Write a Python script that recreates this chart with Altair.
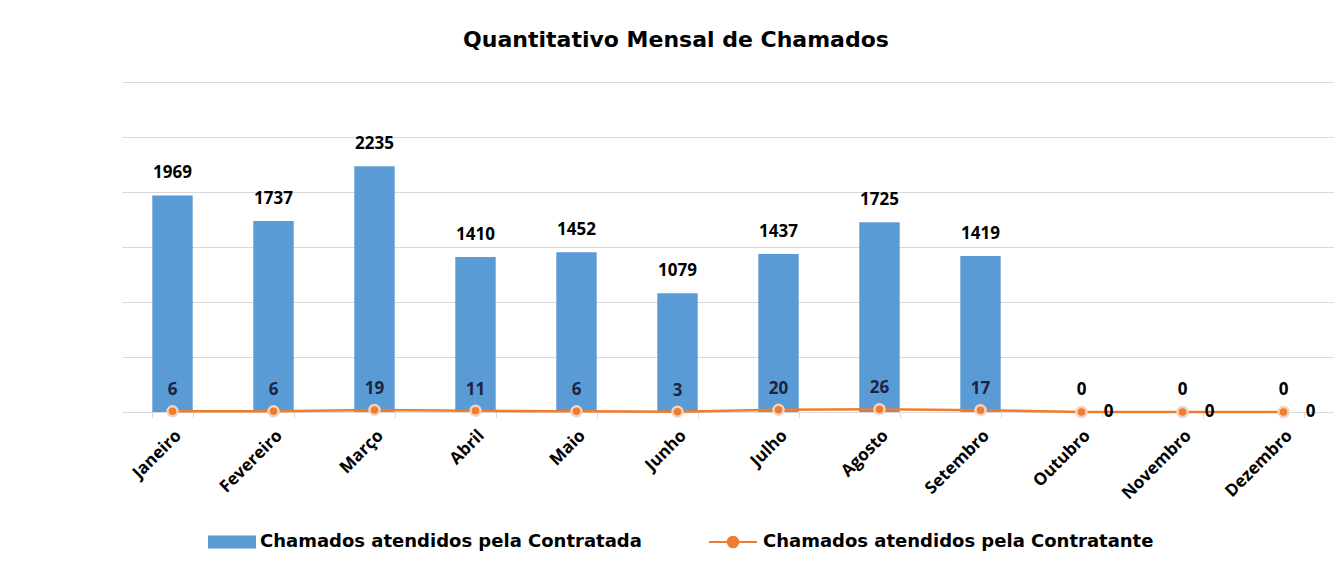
import altair as alt
import pandas as pd

meses = ["Janeiro", "Fevereiro", "Março", "Abril", "Maio", "Junho", "Julho",
         "Agosto", "Setembro", "Outubro", "Novembro", "Dezembro"]
contratada = [1969, 1737, 2235, 1410, 1452, 1079, 1437, 1725, 1419, 0, 0, 0]
contratante = [6, 6, 19, 11, 6, 3, 20, 26, 17, 0, 0, 0]

serie_bar = "Chamados atendidos pela Contratada"
serie_line = "Chamados atendidos pela Contratante"

df = pd.DataFrame({"mes": meses, "contratada": contratada, "contratante": contratante})

BLUE = "#5B9BD5"
ORANGE = "#ED7D31"
FONT = "Open Sans"
WIDE = "DejaVu Sans"

xax = alt.Axis(title=None, labelAngle=-45, labelAlign="right", labelBaseline="top",
               labelFont=FONT, labelFontSize=17, labelFontWeight="bold",
               labelColor="#000000", labelPadding=9,
               tickBand="extent", ticks=True, tickSize=6, tickColor="#D9D9D9",
               domainColor="#D9D9D9", domainWidth=1, grid=False)
xscale = alt.Scale(paddingInner=0.6, paddingOuter=0.3)
x = alt.X("mes:N", sort=meses, title=None, scale=xscale, axis=xax)
yscale = alt.Scale(domain=[0, 3000])
yax = alt.Axis(title=None, labels=False, ticks=False, domain=False,
               grid=True, gridColor="#D9D9D9", gridWidth=1,
               values=[0, 500, 1000, 1500, 2000, 2500, 3000])

def yenc(field):
    return alt.Y(f"{field}:Q", scale=yscale, axis=yax, title=None)

base = alt.Chart(df)

bar_path = "M-1,-0.27H1V0.27H-1Z"
line_path = "M-1,0H1M-0.22,0A0.22,0.22,0,1,0,0.22,0A0.22,0.22,0,1,0,-0.22,0Z"

bars = base.mark_bar(color=BLUE).encode(
    x=x,
    y=yenc("contratada"),
    color=alt.Color("s:N", scale=alt.Scale(domain=[serie_bar], range=[BLUE]),
                    legend=alt.Legend(title=None, orient="none", legendX=85, legendY=435,
                                      symbolType=bar_path, symbolSize=2304,
                                      labelFont=WIDE, labelFontSize=18, labelFontWeight="bold",
                                      labelColor="#000000", labelOffset=3, labelLimit=0)),
).transform_calculate(s=f"'{serie_bar}'")

bar_labels = base.mark_text(font=FONT, fontSize=17, fontWeight="bold", color="#000000",
                            baseline="middle", dy=-22).encode(
    x=x,
    y=yenc("contratada"),
    text=alt.Text("contratada:Q"),
)

line = base.mark_line(strokeWidth=2.5).encode(
    x=x,
    y=yenc("contratante"),
    color=alt.Color("s:N", scale=alt.Scale(domain=[serie_line], range=[ORANGE]),
                    legend=alt.Legend(title=None, orient="none", legendX=586, legendY=435,
                                      symbolType=line_path, symbolSize=2304,
                                      symbolStrokeWidth=2, symbolFillColor=ORANGE,
                                      symbolStrokeColor=ORANGE,
                                      labelFont=WIDE, labelFontSize=18, labelFontWeight="bold",
                                      labelColor="#000000", labelOffset=5, labelLimit=0)),
).transform_calculate(s=f"'{serie_line}'")

points = base.mark_circle(size=100, fill=ORANGE, opacity=1, stroke="#F6D2BC",
                          strokeWidth=2.5).encode(
    x=x,
    y=yenc("contratante"),
)

line_labels_up = base.mark_text(font=FONT, fontSize=17, fontWeight="bold", color="#1B2440",
                                baseline="middle", dy=-21).encode(
    x=x,
    y=yenc("contratante"),
    text=alt.Text("contratante:Q"),
).transform_filter("datum.contratante > 0")

line_labels_right = base.mark_text(font=FONT, fontSize=17, fontWeight="bold", color="#000000",
                                   baseline="middle", align="center", dx=27).encode(
    x=x,
    y=yenc("contratante"),
    text=alt.Text("contratante:Q"),
).transform_filter("datum.contratante == 0")

chart = alt.layer(
    bars, line, points, bar_labels, line_labels_up, line_labels_right
).resolve_scale(color="independent").properties(
    width=1212, height=330,
    background="#FFFFFF",
    padding={"left": 114, "top": 74, "right": 0, "bottom": 150},
    autosize=alt.AutoSizeParams(type="none"),
    title=alt.TitleParams("Quantitativo Mensal de Chamados", font=WIDE, fontSize=22,
                          fontWeight="bold", color="#000000", anchor="middle", dx=-52,
                          offset=30),
).configure_view(strokeWidth=0, stroke="transparent")

chart.save("out.html", embed_options={"renderer": "svg", "actions": False})
